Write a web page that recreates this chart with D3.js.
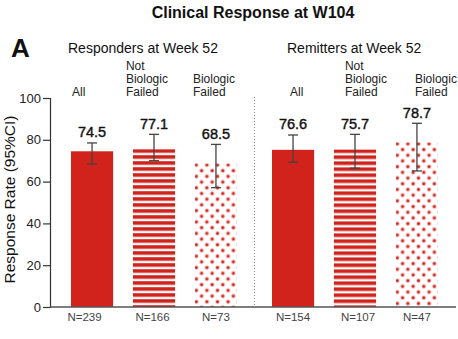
<!DOCTYPE html>
<html>
<head>
<meta charset="utf-8">
<script src="https://cdn.jsdelivr.net/npm/d3@7"></script>
<style>
	body { margin: 0; background: #fff; }
	text { font-family: "Liberation Sans", Arial, sans-serif; }
</style>
</head>
<body>
<div id="graph"></div>
<script>
var groups = ["Responders at Week 52", "Remitters at Week 52"];
var subgroups = ["All", "Not Biologic Failed", "Biologic Failed"];
var subLabels = [["All"], ["Not", "Biologic", "Failed"], ["Biologic", "Failed"]];
var rateLabels = [74.5, 77.1, 68.5, 76.6, 75.7, 78.7];
var barHeights = [74.5, 75.5, 68.7, 75.2, 75.4, 78.8];
var ciLow = [68.4, 70.0, 57.1, 69.2, 66.4, 65.1];
var ciHigh = [78.5, 82.6, 77.8, 82.3, 82.6, 87.9];
var nLabels = ["N=239", "N=166", "N=73", "N=154", "N=107", "N=47"];
var yTicks = [0, 20, 40, 60, 80, 100];

var red = "#d1221b";

var data = [];
groups.forEach(function (g, gi) {
	subgroups.forEach(function (s, si) {
		var i = gi * 3 + si;
		data.push({ i: i, group: g, sub: s, si: si, h: barHeights[i], rate: rateLabels[i], lo: ciLow[i], hi: ciHigh[i], n: nLabels[i] });
	});
});

var width = 458, height = 339;

var vis = d3.select("#graph")
	.append("svg")
	.attr("width", width)
	.attr("height", height);

var x0 = d3.scaleBand().domain(groups).range([71, 438]).paddingInner(0.174).paddingOuter(0);
var x1 = d3.scaleBand().domain(subgroups).range([0, x0.bandwidth()]).paddingInner(0.32).paddingOuter(0);
var y = d3.scaleLinear().domain([0, 100]).range([307, 98]);

function bx(d) { return x0(d.group) + x1(d.sub); }
function cx(d) { return bx(d) + x1.bandwidth() / 2; }

// patterns, one per bar so they start at the bar top
var defs = vis.append("defs");
data.forEach(function (d) {
	if (d.si == 1) {
		var p = defs.append("pattern")
			.attr("id", "pat" + d.i)
			.attr("patternUnits", "userSpaceOnUse")
			.attr("x", bx(d)).attr("y", y(d.h))
			.attr("width", 10).attr("height", 6);
		p.append("rect").attr("width", 10).attr("height", 3.6).attr("fill", red);
	}
	if (d.si == 2) {
		var p = defs.append("pattern")
			.attr("id", "pat" + d.i)
			.attr("patternUnits", "userSpaceOnUse")
			.attr("x", bx(d) - 1).attr("y", y(d.h) - 1)
			.attr("width", 10.6).attr("height", 11.4);
		[[2.4, 2.6], [7.7, 8.3]].forEach(function (c) {
			p.append("circle").attr("cx", c[0]).attr("cy", c[1]).attr("r", 2.3).attr("fill", red).attr("opacity", 0.3);
			p.append("circle").attr("cx", c[0]).attr("cy", c[1]).attr("r", 1.4).attr("fill", red);
		});
	}
});

// title
vis.append("text")
	.attr("x", 253).attr("y", 18)
	.attr("text-anchor", "middle")
	.attr("font-size", "16px").attr("font-weight", "bold")
	.attr("fill", "#111")
	.text("Clinical Response at W104");

vis.append("text")
	.attr("x", 11).attr("y", 57)
	.attr("font-size", "26px").attr("font-weight", "bold")
	.attr("fill", "#111")
	.text("A");

// group titles
vis.selectAll(".gtitle")
	.data(groups)
	.enter()
	.append("text")
	.attr("class", "gtitle")
	.attr("x", function (g, i) { return x0(g) + (i == 0 ? -3 : 15); })
	.attr("y", 53)
	.attr("font-size", "14px")
	.attr("fill", "#111")
	.text(function (g) { return g; });

// column labels
var labelDx = [1, -7, -2, 18, 11, 19];
data.forEach(function (d) {
	var lines = subLabels[d.si];
	lines.forEach(function (t, k) {
		vis.append("text")
			.attr("x", bx(d) + labelDx[d.i])
			.attr("y", 96 - (lines.length - 1 - k) * 13)
			.attr("font-size", "12px")
			.attr("fill", "#222")
			.text(t);
	});
});

// divider
vis.append("line")
	.attr("x1", 254.5).attr("x2", 254.5)
	.attr("y1", 97).attr("y2", y(0))
	.attr("stroke", "#888").attr("stroke-width", 1)
	.attr("stroke-dasharray", "1,2");

// bars
vis.selectAll(".bar")
	.data(data)
	.enter()
	.append("rect")
	.attr("class", "bar")
	.attr("x", bx)
	.attr("y", function (d) { return y(d.h); })
	.attr("width", x1.bandwidth())
	.attr("height", function (d) { return y(0) - y(d.h); })
	.attr("fill", function (d) { return d.si == 0 ? red : "url(#pat" + d.i + ")"; });

// error bars
var err = vis.selectAll(".err")
	.data(data)
	.enter()
	.append("g")
	.attr("class", "err")
	.attr("stroke", "#444")
	.attr("stroke-width", 1.3);
err.append("line")
	.attr("x1", cx).attr("x2", cx)
	.attr("y1", function (d) { return y(d.lo); })
	.attr("y2", function (d) { return y(d.hi); });
err.append("line")
	.attr("x1", function (d) { return cx(d) - 5; })
	.attr("x2", function (d) { return cx(d) + 5; })
	.attr("y1", function (d) { return y(d.hi); })
	.attr("y2", function (d) { return y(d.hi); });
err.append("line")
	.attr("x1", function (d) { return cx(d) - 5; })
	.attr("x2", function (d) { return cx(d) + 5; })
	.attr("y1", function (d) { return y(d.lo); })
	.attr("y2", function (d) { return y(d.lo); });

// value labels
vis.selectAll(".val")
	.data(data)
	.enter()
	.append("text")
	.attr("class", "val")
	.attr("x", cx)
	.attr("y", function (d) { return y(d.hi) - 5.5; })
	.attr("text-anchor", "middle")
	.attr("font-size", "14.5px")
	.attr("fill", "#111")
	.attr("stroke", "#111")
	.attr("stroke-width", 0.4)
	.text(function (d) { return d.rate.toFixed(1); });

// N labels
var nDx = [-7.5, -1.5, 0, 0, 3, 0];
vis.selectAll(".nlab")
	.data(data)
	.enter()
	.append("text")
	.attr("class", "nlab")
	.attr("x", function (d) { return cx(d) + nDx[d.i]; })
	.attr("y", 321)
	.attr("text-anchor", "middle")
	.attr("font-size", "11.5px")
	.attr("fill", "#444")
	.text(function (d) { return d.n; });

// axes
var yAxis = vis.append("g")
	.attr("transform", "translate(50,0)")
	.call(d3.axisLeft(y).tickValues(yTicks).tickSize(7).tickPadding(2));
yAxis.select(".domain").attr("stroke", "#333").attr("stroke-width", 1.2);
yAxis.selectAll(".tick line").attr("stroke", "#333").attr("stroke-width", 1.2);
yAxis.selectAll(".tick text")
	.attr("font-size", "13px")
	.attr("fill", "#222")
	.style("font-family", "'Liberation Sans', Arial, sans-serif");

vis.append("line")
	.attr("x1", 50).attr("x2", 456)
	.attr("y1", y(0)).attr("y2", y(0))
	.attr("stroke", "#555").attr("stroke-width", 1.3);

vis.append("text")
	.attr("transform", "translate(15," + ((y(0) + y(100)) / 2 - 3) + ") rotate(-90)")
	.attr("text-anchor", "middle")
	.attr("font-size", "15.5px")
	.attr("fill", "#111")
	.text("Response Rate (95%CI)");
</script>
</body>
</html>
